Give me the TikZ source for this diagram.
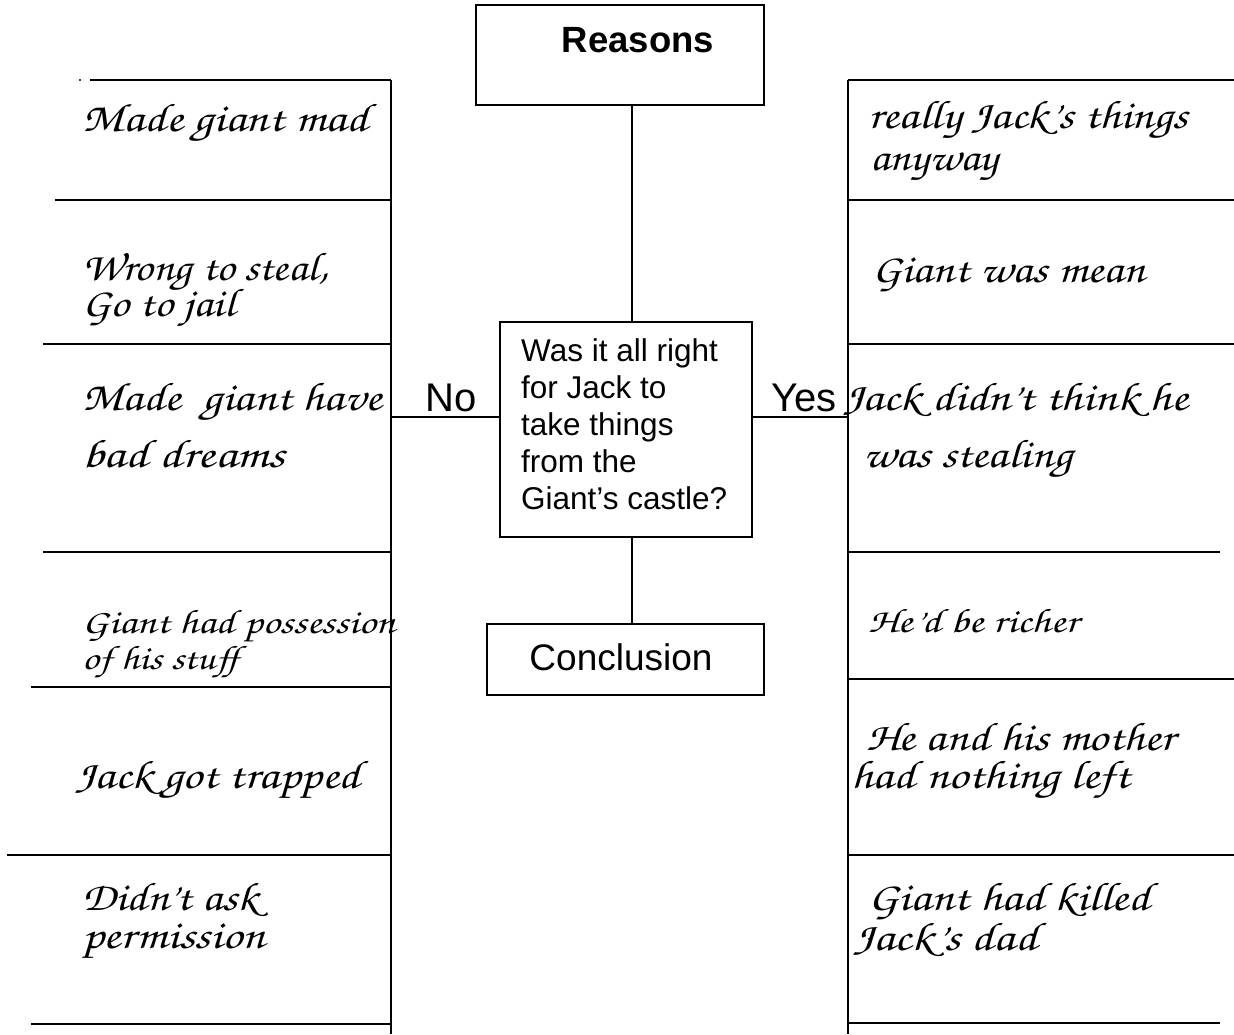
\documentclass[tikz,border=0pt]{standalone}
\usepackage{fontspec}
\usepackage{graphicx}
\setmainfont{Liberation Sans}
\newfontfamily\hand{TeX Gyre Chorus}
\newcommand\hwline[2]{\resizebox{#1pt}{\height}{#2}}
\begin{document}
\begin{tikzpicture}[x=1pt,y=-1pt,
  ln/.style={line width=1.8pt},
  box/.style={draw,line width=1.8pt,inner sep=0pt},
  lbl/.style={inner sep=0pt},
  hw/.style={anchor=base west,inner sep=0pt,font=\hand\fontsize{40}{42}\selectfont},
  hws/.style={anchor=base west,inner sep=0pt,font=\hand\fontsize{34}{36}\selectfont}]
\useasboundingbox (0,0) rectangle (1234,1034);
% spines
\coordinate (lt) at (391,80);
\coordinate (lb) at (391,1034);
\coordinate (rtp) at (848,80);
\coordinate (rb) at (848,1034);
\draw[ln] (lt) -- (lb);
\draw[ln] (rtp) -- (rb);
% rules
\foreach \x/\y in {90/80,55/200,43/344,43/552,31/687,7/855,31/1024}
  \draw[ln] (\x,\y) -- (391,\y);
\foreach \x/\y in {1234/80,1234/200,1234/344,1220/552,1234/679,1234/855,1220/1023}
  \draw[ln] (848,\y) -- (\x,\y);
\fill (80,80) circle (1.2);
% centre boxes
\node[box,minimum width=288,minimum height=100] (r) at (620,55) {};
\node[lbl,font=\bfseries\fontsize{36.5}{40}\selectfont] (rtx) at (638,40) {Reasons};
\node[box,minimum width=252,minimum height=215] (q) at (626,429.5) {};
\node[lbl,anchor=west,align=left,font=\fontsize{31.5}{37}\selectfont] (qt) at (521,424)
  {Was it all right\\for Jack to\\take things\\from the\\Giant’s castle?};
\node[box,minimum width=277,minimum height=71] (c) at (625.5,659.5) {};
\node[lbl,font=\fontsize{37}{40}\selectfont] (ct) at (621,657) {Conclusion};
\node[lbl,font=\fontsize{40}{44}\selectfont] (no) at (451,398) {No};
\node[lbl,font=\fontsize{40}{44}\selectfont] (yes) at (804,398) {Yes};
% connectors
\draw[ln] ([xshift=12]r.south) -- ([xshift=6]q.north);
\draw[ln] ([xshift=6]q.south) -- ([xshift=6.5]c.north);
\draw[ln] ([yshift=12.5]q.west) -- ([yshift=12.5]q.west -| lt);
\draw[ln] ([yshift=12.5]q.east) -- ([yshift=12.5]q.east -| rtp);
% left reasons
\node[hw] (l1) at (82,131) {\hwline{286}{Made giant mad}};
\node[hw] (l2a) at (82,280) {\hwline{246}{Wrong to steal,}};
\node[hw] (l2b) at (82,316) {\hwline{153}{Go to jail}};
\node[hw] (l3a) at (82,410) {\hwline{300}{Made~~giant have}};
\node[hw] (l3b) at (82,467) {\hwline{203}{bad dreams}};
\node[hws] (l4a) at (82,633) {\hwline{313}{Giant had possession}};
\node[hws] (l4b) at (82,669) {\hwline{156}{of his stuff}};
\node[hw] (l5) at (75,788) {\hwline{285}{Jack got trapped}};
\node[hw] (l6a) at (82,910) {\hwline{176}{Didn’t ask}};
\node[hw] (l6b) at (82,948) {\hwline{183}{permission}};
% right reasons
\node[hw] (r1a) at (868,128) {\hwline{320}{really Jack’s things}};
\node[hw] (r1b) at (870,170) {\hwline{128}{anyway}};
\node[hw] (r2) at (872,282) {\hwline{273}{Giant was mean}};
\node[hw] (r3a) at (843,410) {\hwline{345}{Jack didn’t think he}};
\node[hw] (r3b) at (863,467) {\hwline{209}{was stealing}};
\node[hws] (r4) at (868,632) {\hwline{210}{He’d be richer}};
\node[hw] (r5a) at (866,750) {\hwline{309}{He and his mother}};
\node[hw] (r5b) at (851,788) {\hwline{279}{had nothing left}};
\node[hw] (r6a) at (868,910) {\hwline{282}{Giant had killed}};
\node[hw] (r6b) at (853,950) {\hwline{184}{Jack’s dad}};
\end{tikzpicture}
\end{document}
